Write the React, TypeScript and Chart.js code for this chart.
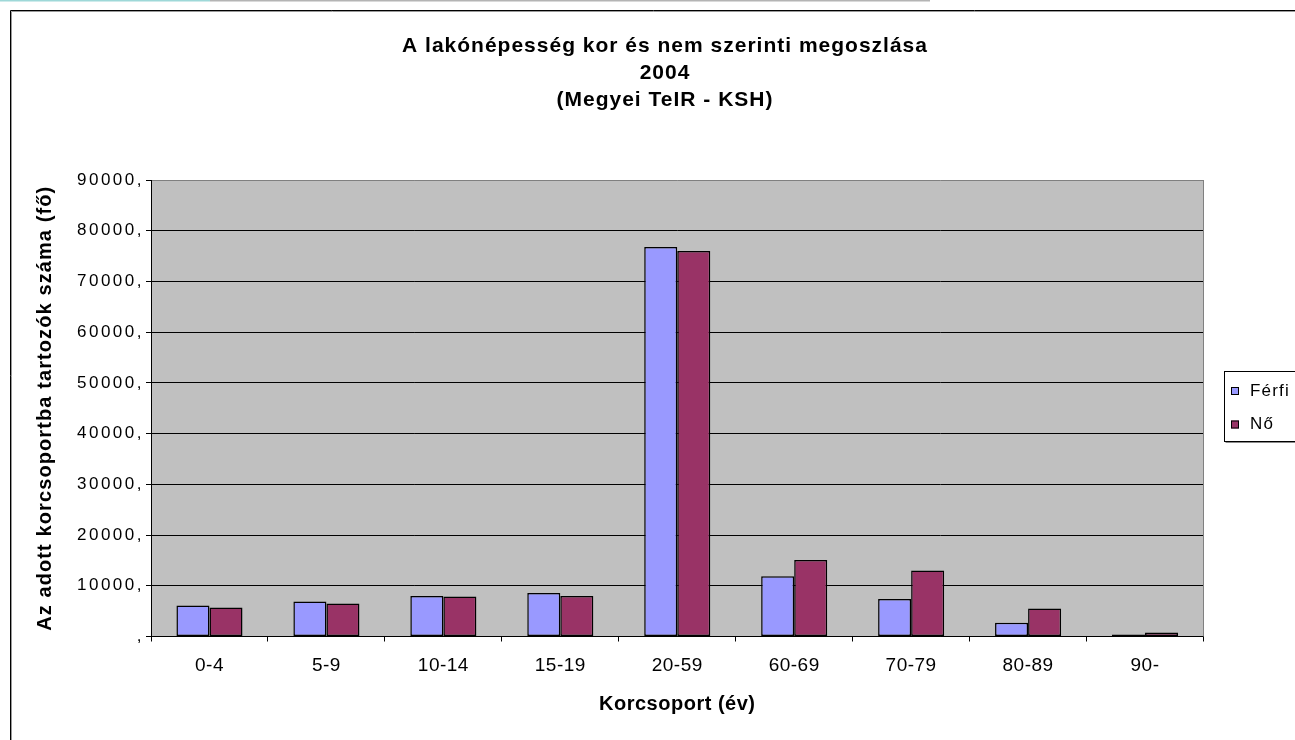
import { useEffect, useRef } from 'react';
import { Chart, registerables } from 'chart.js';

Chart.register(...registerables);

const categories = ['0-4', '5-9', '10-14', '15-19', '20-59', '60-69', '70-79', '80-89', '90-'];
const maleValues = [6100, 6900, 8000, 8600, 76800, 11900, 7400, 2700, 400];
const femaleValues = [5700, 6500, 7900, 8000, 76000, 15100, 13000, 5500, 800];
const seriesLabels = ['Férfi', 'Nő'];
const seriesColors = ['#9999FF', '#993366'];
const titleLines = ['A lakónépesség kor és nem szerinti megoszlása', '2004', '(Megyei TeIR - KSH)'];
const xAxisTitle = 'Korcsoport (év)';
const yAxisTitle = 'Az adott korcsoportba tartozók száma (fő)';
const yMin = 0;
const yMax = 90000;
const yStep = 10000;

const FONT = "'Liberation Sans', Arial, sans-serif";

const decorPlugin = {
  id: 'decor',
  beforeDraw(chart: any) {
    const ctx = chart.ctx;
    const a = chart.chartArea;
    ctx.save();
    ctx.fillStyle = '#9ed8d8';
    ctx.fillRect(0, 0, 210, 1.5);
    ctx.fillStyle = '#b4b4b4';
    ctx.fillRect(210, 0, 720, 1.5);
    ctx.lineWidth = 1;
    ctx.strokeStyle = '#000';
    ctx.beginPath();
    ctx.moveTo(10.5, 745);
    ctx.lineTo(10.5, 10.5);
    ctx.lineTo(1300, 10.5);
    ctx.stroke();
    ctx.strokeStyle = '#9a9a9a';
    ctx.beginPath();
    ctx.moveTo(11.5, 745);
    ctx.lineTo(11.5, 11.5);
    ctx.lineTo(1300, 11.5);
    ctx.stroke();
    ctx.fillStyle = '#C0C0C0';
    ctx.fillRect(a.left, a.top, a.right - a.left, a.bottom - a.top);
    ctx.restore();
  },
  beforeDatasetsDraw(chart: any) {
    const ctx = chart.ctx;
    const a = chart.chartArea;
    ctx.save();
    ctx.strokeStyle = '#808080';
    ctx.lineWidth = 1;
    ctx.beginPath();
    ctx.moveTo(Math.round(a.right) - 0.5, a.top);
    ctx.lineTo(Math.round(a.right) - 0.5, a.bottom);
    ctx.stroke();
    ctx.restore();
  },
  afterDraw(chart: any) {
    const ctx = chart.ctx;
    ctx.save();
    ctx.fillStyle = '#fff';
    ctx.fillRect(1224.5, 371.5, 90, 70);
    ctx.strokeStyle = '#000';
    ctx.lineWidth = 1;
    ctx.strokeRect(1224.5, 371.5, 90, 70);
    ctx.strokeStyle = '#8a8a8a';
    ctx.beginPath();
    ctx.moveTo(1225.5, 442.5);
    ctx.lineTo(1300, 442.5);
    ctx.stroke();
    const rows = [391, 424.5];
    chart.data.datasets.forEach((ds: any, i: number) => {
      const cy = rows[i];
      ctx.fillStyle = ds.backgroundColor;
      ctx.fillRect(1231, cy - 4, 8, 8);
      ctx.strokeStyle = '#000';
      ctx.lineWidth = 1;
      ctx.strokeRect(1231.5, cy - 3.5, 7, 7);
      ctx.fillStyle = '#000';
      ctx.font = `17px ${FONT}`;
      (ctx as any).letterSpacing = '1.2px';
      ctx.textAlign = 'left';
      ctx.textBaseline = 'middle';
      ctx.fillText(ds.label, 1250, cy);
    });
    ctx.restore();
  },
};

const spacingPlugin = {
  id: 'spacing',
  afterLayout(chart: any) {
    const patch = (obj: any, name: string, sp: string, center?: number) => {
      if (!obj || obj['__p_' + name]) return;
      const orig = obj[name];
      obj[name] = function (...args: any[]) {
        const ctx = chart.ctx;
        ctx.save();
        ctx.letterSpacing = sp;
        if (center !== undefined) ctx.translate(center - (this.left + this.right) / 2, 0);
        const r = orig.apply(this, args);
        ctx.restore();
        return r;
      };
      obj['__p_' + name] = true;
    };
    patch(chart.scales.x, 'drawLabels', '0.5px');
    patch(chart.scales.x, 'drawTitle', '0.5px');
    patch(chart.scales.y, 'drawLabels', '2.5px');
    patch(chart.scales.y, 'drawTitle', '1.1px');
    patch(chart.titleBlock, 'draw', '1px', 665);
  },
};

export default function App() {
  const ref = useRef<HTMLCanvasElement>(null);
  useEffect(() => {
    if (!ref.current) return;
    const chart = new Chart(ref.current, {
      type: 'bar',
      data: {
        labels: categories,
        datasets: [
          {
            label: seriesLabels[0],
            data: maleValues,
            backgroundColor: seriesColors[0],
            borderColor: '#000',
            borderWidth: 1.5,
            borderSkipped: false,
            categoryPercentage: 0.565,
            barPercentage: 1,
          },
          {
            label: seriesLabels[1],
            data: femaleValues,
            backgroundColor: seriesColors[1],
            borderColor: '#000',
            borderWidth: 1.5,
            borderSkipped: false,
            categoryPercentage: 0.565,
            barPercentage: 1,
          },
        ],
      },
      options: {
        responsive: false,
        devicePixelRatio: 1,
        animation: false,
        layout: { padding: { left: 10, top: 0, right: 91.5, bottom: 0 } },
        plugins: {
          legend: { display: false },
          tooltip: { enabled: false },
          title: {
            display: true,
            text: titleLines,
            color: '#000',
            font: { family: FONT, size: 21, weight: 'bold', lineHeight: 27 / 21 },
            padding: { top: 32.7, bottom: 66.3 },
          },
        },
        scales: {
          x: {
            afterFit: (s: any) => {
              s.height = 103.5;
            },
            grid: {
              offset: true,
              drawOnChartArea: false,
              drawTicks: true,
              tickLength: 5,
              color: '#000',
              tickColor: '#000',
            },
            border: { display: true, color: '#000', width: 1 },
            ticks: {
              color: '#000',
              font: { family: FONT, size: 19 },
              padding: 12.9,
              maxRotation: 0,
              autoSkip: false,
            },
            title: {
              display: true,
              text: xAxisTitle,
              color: '#000',
              font: { family: FONT, size: 20, weight: 'bold' },
              padding: { top: 0, bottom: 24 },
            },
          },
          y: {
            min: yMin,
            max: yMax,
            afterFit: (s: any) => {
              s.width = 141;
            },
            grid: {
              drawOnChartArea: true,
              drawTicks: true,
              tickLength: 5,
              tickColor: '#000',
              color: (c: any) => (c.tick && c.tick.value === yMax ? '#808080' : '#000'),
              lineWidth: 1,
            },
            border: { display: true, color: '#000', width: 1 },
            ticks: {
              stepSize: yStep,
              color: '#000',
              font: { family: FONT, size: 17 },
              padding: 2,
              callback: (v: any) => (Number(v) === 0 ? ',' : `${v},`),
            },
            title: {
              display: true,
              text: yAxisTitle,
              color: '#000',
              font: { family: FONT, size: 20, weight: 'bold' },
              padding: { top: 23.5, bottom: 0 },
            },
          },
        },
      },
      plugins: [decorPlugin, spacingPlugin],
    } as any);
    return () => chart.destroy();
  }, []);
  return (
    <div style={{ position: 'absolute', left: 0, top: 0, width: 1295, height: 740, background: '#fff' }}>
      <canvas ref={ref} width={1295} height={740} style={{ display: 'block' }} />
    </div>
  );
}
